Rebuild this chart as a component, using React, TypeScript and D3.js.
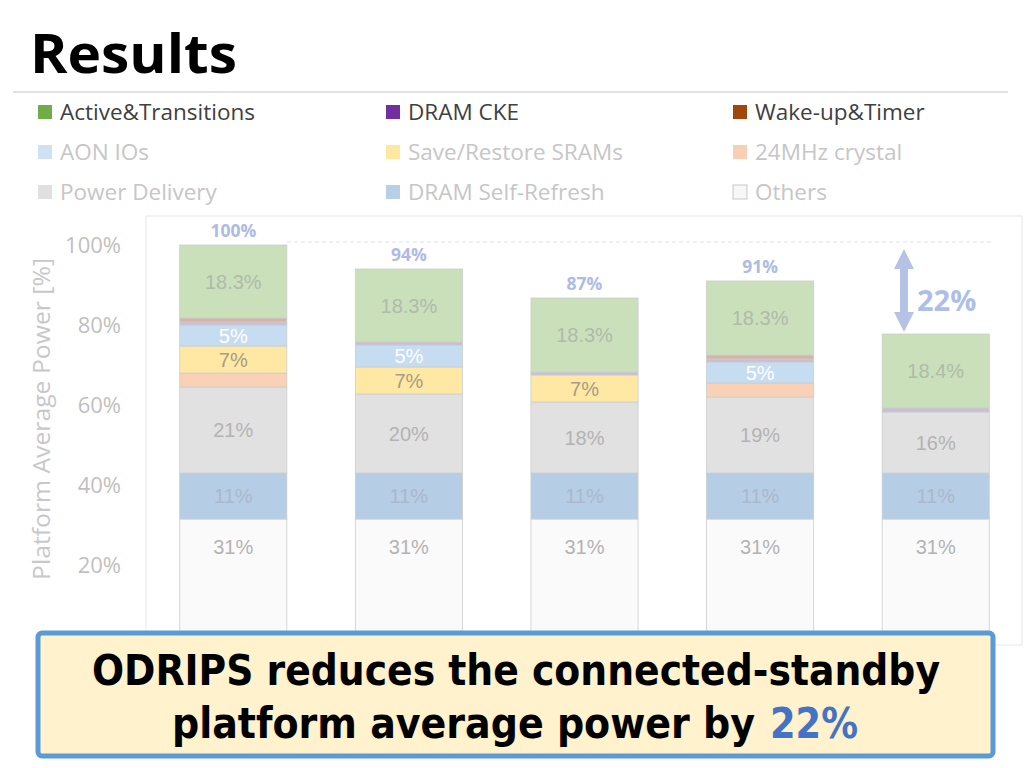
import React, { useEffect, useRef } from "react";
import * as d3 from "d3";

// bars, bottom to top
const categories = ["Baseline", "Opt 1", "Opt 2", "Opt 3", "ODRIPS"];
const others = [31.5, 31.5, 31.5, 31.5, 31.5];
const dramSelfRefresh = [11.5, 11.5, 11.5, 11.5, 11.5];
const powerDelivery = [21.5, 19.75, 17.75, 19, 15.25];
const crystal24 = [3.5, 0, 0, 3.5, 0];
const saveRestore = [6.75, 6.75, 6.75, 0, 0];
const aonIOs = [5.25, 5.5, 0, 5.25, 0];
const dramCKE = [0.75, 0.75, 0.75, 0.75, 1];
const wakeupTimer = [1, 0, 0, 1, 0];
const activeTrans = [18.25, 18.25, 18.5, 18.5, 18.5];

// data labels printed in the segments
const othersLabels = ["31%", "31%", "31%", "31%", "31%"];
const selfRefreshLabels = ["11%", "11%", "11%", "11%", "11%"];
const powerDeliveryLabels = ["21%", "20%", "18%", "19%", "16%"];
const saveRestoreLabels = ["7%", "7%", "7%", "", ""];
const aonLabels = ["5%", "5%", "", "5%", ""];
const activeLabels = ["18.3%", "18.3%", "18.3%", "18.3%", "18.4%"];
const totalLabels = ["100%", "94%", "87%", "91%", ""];

const yTicks = [20, 40, 60, 80, 100];
const reductionLabel = "22%";

const series = [
  { key: "Others", values: others, labels: othersLabels, fill: "#fafafa", legend: "#f7f7f7", text: "#b3b3b3" },
  { key: "DRAM Self-Refresh", values: dramSelfRefresh, labels: selfRefreshLabels, fill: "#b6cde6", legend: "#b8cfe8", text: "#aab9c9" },
  { key: "Power Delivery", values: powerDelivery, labels: powerDeliveryLabels, fill: "#e1e1e1", legend: "#e0e0e0", text: "#b3b3b3" },
  { key: "24MHz crystal", values: crystal24, labels: null, fill: "#f9d1b7", legend: "#f8cfb4", text: "#aaa" },
  { key: "Save/Restore SRAMs", values: saveRestore, labels: saveRestoreLabels, fill: "#ffe8a3", legend: "#ffe9a0", text: "#a89c85" },
  { key: "AON IOs", values: aonIOs, labels: aonLabels, fill: "#c6dcf1", legend: "#cfe2f3", text: "#ffffff" },
  { key: "DRAM CKE", values: dramCKE, labels: null, fill: "#c9bdd8", legend: "#7030a0", text: "#aaa" },
  { key: "Wake-up&Timer", values: wakeupTimer, labels: null, fill: "#d6b3a6", legend: "#9e480e", text: "#aaa" },
  { key: "Active&Transitions", values: activeTrans, labels: activeLabels, fill: "#c9e0bb", legend: "#70ad47", text: "#b0bba8" },
];

// legend laid out row by row, three columns
const legendOrder = [
  "Active&Transitions", "DRAM CKE", "Wake-up&Timer",
  "AON IOs", "Save/Restore SRAMs", "24MHz crystal",
  "Power Delivery", "DRAM Self-Refresh", "Others",
];
const legendActive = ["Active&Transitions", "DRAM CKE", "Wake-up&Timer"];

const FONT = "'Open Sans', 'Noto Sans', sans-serif";
const LABEL_FONT = "'Liberation Sans', Arial, sans-serif";
const BOX_FONT = "'DejaVu Sans Condensed', 'DejaVu Sans', sans-serif";

function App() {
  const ref = useRef<SVGSVGElement>(null);

  useEffect(() => {
    const svg = d3.select(ref.current);
    svg.selectAll("*").remove();

    const x = d3.scaleBand().domain(categories).range([146, 1023]).paddingInner(0.39).paddingOuter(0.192);
    const y = d3.scaleLinear().domain([0, 100]).range([645, 245]);

    const rows = categories.map((c, i) => {
      const r: any = { cat: c };
      series.forEach((s) => (r[s.key] = s.values[i]));
      return r;
    });
    const stacked = d3.stack().keys(series.map((s) => s.key))(rows);
    const totals = categories.map((_, i) => d3.sum(series, (s) => s.values[i]));

    // title
    svg.append("text").attr("x", 30).attr("y", 73).text("Results")
      .attr("font-family", FONT).attr("font-weight", 700).attr("font-size", 54)
      .attr("textLength", 207).attr("lengthAdjust", "spacingAndGlyphs").attr("fill", "#000");
    svg.append("line").attr("x1", 13).attr("x2", 1008).attr("y1", 92).attr("y2", 92)
      .attr("stroke", "#d9d9d9").attr("stroke-width", 1.5);

    // legend
    const colX = [38, 386, 733];
    const rowY = [112, 152, 192];
    legendOrder.forEach((name, i) => {
      const s = series.find((d) => d.key === name)!;
      const gx = colX[i % 3];
      const gy = rowY[Math.floor(i / 3)];
      svg.append("rect").attr("x", gx).attr("y", gy - 7).attr("width", 14).attr("height", 14)
        .attr("fill", s.legend).attr("stroke", name === "Others" ? "#c8c8c8" : "none");
      svg.append("text").attr("x", gx + 22).attr("y", gy).attr("dy", "0.36em").text(name)
        .attr("font-family", FONT).attr("font-size", 22.5)
        .attr("fill", legendActive.includes(name) ? "#404040" : "#c6c6c6");
    });

    // plot area frame
    svg.append("rect").attr("x", 146).attr("y", 216).attr("width", 876).attr("height", 429)
      .attr("fill", "none").attr("stroke", "#efefef").attr("stroke-width", 1.5);

    // faint dashed reference at the baseline total
    svg.append("line").attr("x1", x(categories[0])! + x.bandwidth()).attr("x2", 992)
      .attr("y1", y(totals[0]) - 3).attr("y2", y(totals[0]) - 3)
      .attr("stroke", "#e6eaf3").attr("stroke-width", 1.5).attr("stroke-dasharray", "4,3");

    // y axis ticks
    svg.append("g").selectAll("text").data(yTicks).join("text")
      .attr("x", 121).attr("y", (d) => y(d)).attr("dy", "0.36em").attr("text-anchor", "end")
      .text((d) => `${d}%`).attr("font-family", FONT).attr("font-size", 22).attr("fill", "#bfbfbf");

    svg.append("text").attr("transform", `translate(50,419) rotate(-90)`)
      .attr("text-anchor", "middle").text("Platform Average Power [%]")
      .attr("font-family", FONT).attr("font-size", 23)
      .attr("textLength", 322).attr("lengthAdjust", "spacingAndGlyphs").attr("fill", "#c8c8c8");

    // stacked bars
    const g = svg.append("g");
    stacked.forEach((layer, li) => {
      const s = series[li];
      g.append("g").selectAll("rect").data(layer).join("rect")
        .attr("x", (d: any) => x(d.data.cat)!)
        .attr("width", x.bandwidth())
        .attr("y", (d) => y(d[1]))
        .attr("height", (d) => y(d[0]) - y(d[1]))
        .attr("fill", s.fill)
        .attr("stroke", "#cdcdcd").attr("stroke-width", (d) => (d[1] - d[0] > 0 ? 0.8 : 0));
    });

    // segment labels
    stacked.forEach((layer, li) => {
      const s = series[li];
      if (!s.labels) return;
      g.append("g").selectAll("text").data(layer).join("text")
        .attr("x", (d: any) => x(d.data.cat)! + x.bandwidth() / 2)
        .attr("y", (d) => (s.key === "Others" ? y(d[1]) + 28 : (y(d[0]) + y(d[1])) / 2))
        .attr("dy", "0.36em").attr("text-anchor", "middle")
        .text((_, i) => s.labels![i])
        .attr("font-family", LABEL_FONT).attr("font-size", 20).attr("fill", s.text);
    });

    // totals on top
    g.append("g").selectAll("text").data(categories).join("text")
      .attr("x", (c) => x(c)! + x.bandwidth() / 2)
      .attr("y", (_, i) => y(totals[i]) - 14)
      .attr("dy", "0.36em").attr("text-anchor", "middle")
      .text((_, i) => totalLabels[i])
      .attr("font-family", FONT).attr("font-weight", 700).attr("font-size", 17.5).attr("fill", "#aebbe3");

    // reduction arrow
    const ax = 904;
    const top = y(totals[0]) + 4;
    const bot = y(totals[4]) - 2;
    const hw = 10, hh = 20, sw = 4;
    svg.append("path")
      .attr("d", `M${ax},${top} L${ax + hw},${top + hh} L${ax + sw},${top + hh} L${ax + sw},${bot - hh} L${ax + hw},${bot - hh} L${ax},${bot} L${ax - hw},${bot - hh} L${ax - sw},${bot - hh} L${ax - sw},${top + hh} L${ax - hw},${top + hh} Z`)
      .attr("fill", "#b4c3e5");
    svg.append("text").attr("x", 917).attr("y", (top + bot) / 2 + 10).attr("dy", "0.36em")
      .text(reductionLabel).attr("font-family", FONT).attr("font-weight", 700).attr("font-size", 29)
      .attr("fill", "#aebfe7");

    // conclusion box
    svg.append("rect").attr("x", 38).attr("y", 633).attr("width", 955).attr("height", 123)
      .attr("rx", 4).attr("fill", "#fff2cc").attr("stroke", "#5b9bd5").attr("stroke-width", 5);
    svg.append("text").attr("x", 92).attr("y", 685)
      .text("ODRIPS reduces the connected-standby")
      .attr("font-family", BOX_FONT).attr("font-weight", 700).attr("font-size", 42)
      .attr("textLength", 848).attr("lengthAdjust", "spacingAndGlyphs").attr("fill", "#000");
    svg.append("text").attr("x", 172).attr("y", 738)
      .text("platform average power by")
      .attr("font-family", BOX_FONT).attr("font-weight", 700).attr("font-size", 42)
      .attr("textLength", 583).attr("lengthAdjust", "spacingAndGlyphs").attr("fill", "#000");
    svg.append("text").attr("x", 770).attr("y", 738)
      .text(reductionLabel)
      .attr("font-family", BOX_FONT).attr("font-weight", 700).attr("font-size", 42)
      .attr("textLength", 88).attr("lengthAdjust", "spacingAndGlyphs").attr("fill", "#4472c4");
  }, []);

  return (
    <svg ref={ref} width={1024} height={768}
      style={{ position: "absolute", left: 0, top: 0, background: "#fff" }} />
  );
}

export default App;
